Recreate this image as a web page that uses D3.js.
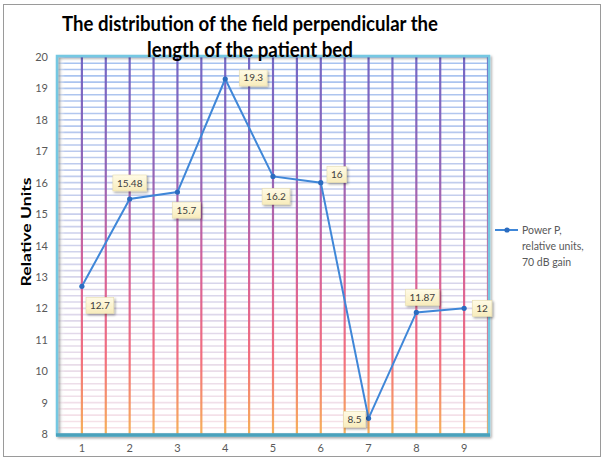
<!DOCTYPE html>
<html><head><meta charset="utf-8">
<script src="https://cdn.jsdelivr.net/npm/d3@7"></script>
<style>body{margin:0;background:#fff}svg{display:block}</style>
</head><body>
<script>
// ---- data ----
const categories = ["1","2","3","4","5","6","7","8","9"];
const values = [12.7, 15.48, 15.7, 19.3, 16.2, 16, 8.5, 11.87, 12];
const valueLabels = ["12.7","15.48","15.7","19.3","16.2","16","8.5","11.87","12"];
const yTicks = [8,9,10,11,12,13,14,15,16,17,18,19,20];
const titleLines = ["The distribution of the field perpendicular the","length of the patient bed"];
const yTitle = "Relative Units";
const legendLines = ["Power P,","relative units,","70 dB gain"];

// ---- layout (not data) ----
const W = 606, H = 459;
const M = {left: 58, right: 488, top: 57, bottom: 434};
const labelOffsets = [[18,19],[0,-16],[9,18],[28,-1],[3,20],[16,-8],[-14,1],[6,-15],[18,0]];

const svg = d3.select("body").append("svg").attr("width", W).attr("height", H);
const defs = svg.append("defs");

const vg = defs.append("linearGradient").attr("id","vgrad").attr("gradientUnits","userSpaceOnUse")
  .attr("x1",0).attr("x2",0).attr("y1",M.top).attr("y2",M.bottom);
[[0,"#6a5cc0"],[0.3,"#8a5ab2"],[0.55,"#d25592"],[0.8,"#f26474"],[1,"#f6aa4c"]].forEach(([o,c])=>
  vg.append("stop").attr("offset",o).attr("stop-color",c));

const sh = defs.append("filter").attr("id","shadow").attr("x","-30%").attr("y","-30%").attr("width","160%").attr("height","160%");
sh.append("feDropShadow").attr("dx",1.5).attr("dy",1.5).attr("stdDeviation",1.2).attr("flood-color","#000").attr("flood-opacity",0.35);

const bg = defs.append("linearGradient").attr("id","boxgrad").attr("x1",0).attr("x2",0).attr("y1",0).attr("y2",1);
bg.append("stop").attr("offset",0).attr("stop-color","#fffbe6");
bg.append("stop").attr("offset",1).attr("stop-color","#f8ecbc");

const lg = defs.append("linearGradient").attr("id","leftshade").attr("x1",0).attr("x2",1);
lg.append("stop").attr("offset",0).attr("stop-color","#d8d8d8").attr("stop-opacity",0.8);
lg.append("stop").attr("offset",1).attr("stop-color","#ffffff").attr("stop-opacity",0);

// outer frame
svg.append("rect").attr("x",3.5).attr("y",4.5).attr("width",597).attr("height",452)
  .attr("fill","#fff").attr("stroke","#9a9a9a").attr("stroke-width",1);

// scales
const x = d3.scaleBand().domain(categories).range([M.left, M.right]).padding(0);
const y = d3.scaleLinear().domain([8,20]).range([M.bottom, M.top]);

// horizontal minor gridlines every 0.2
const hColor = d3.interpolateRgb("#a6c2f0", "#f8e2e8");
const hVals = d3.range(0, 61).map(i => 8 + i*0.2);
svg.append("g").selectAll("line").data(hVals).join("line")
  .attr("x1", M.left).attr("x2", M.right)
  .attr("y1", d => y(d)).attr("y2", d => y(d))
  .attr("stroke", d => hColor((20-d)/12)).attr("stroke-width", 1.6);

// left shade
svg.append("rect").attr("x",M.left).attr("y",M.top).attr("width",7).attr("height",M.bottom-M.top)
  .attr("fill","url(#leftshade)");

// vertical gridlines at centres and boundaries
const vx = [];
categories.forEach((c,i) => {
  vx.push(x(c) + x.bandwidth()/2);
  vx.push(x(c) + x.bandwidth());
});
svg.append("g").selectAll("line").data(vx).join("line")
  .attr("x1", d => d).attr("x2", d => d)
  .attr("y1", M.top).attr("y2", M.bottom)
  .attr("stroke", "url(#vgrad)").attr("stroke-width", 2.2).attr("stroke-opacity", 0.92);

// plot border
const border = svg.append("g").attr("filter","url(#shadow)");
border.append("rect").attr("x",M.left-1).attr("y",M.top-1).attr("width",M.right-M.left+2).attr("height",M.bottom-M.top+2)
  .attr("fill","none").attr("stroke","#74c8e2").attr("stroke-width",2.5);
border.append("line").attr("x1",M.left-2).attr("x2",M.right+2).attr("y1",M.bottom+1).attr("y2",M.bottom+1)
  .attr("stroke","#4aa2bc").attr("stroke-width",3.5);

// axes
const yAxis = d3.axisLeft(y).tickValues(yTicks).tickSize(0).tickPadding(10).tickFormat(d3.format("d"));
const gy = svg.append("g").attr("transform",`translate(${M.left},0)`).call(yAxis);
gy.select(".domain").remove();
gy.selectAll("text").attr("font-family","Lato, 'Open Sans', sans-serif").attr("font-size",11).attr("fill","#595959");

const xAxis = d3.axisBottom(x).tickSize(0).tickPadding(10);
const gx = svg.append("g").attr("transform",`translate(0,${M.bottom})`).call(xAxis);
gx.select(".domain").remove();
gx.selectAll("text").attr("font-family","Lato, 'Open Sans', sans-serif").attr("font-size",11).attr("fill","#595959");

// series line
const cx = (d,i) => x(categories[i]) + x.bandwidth()/2;
const line = d3.line().x((d,i)=>cx(d,i)).y(d=>y(d));
svg.append("path").datum(values).attr("d", line)
  .attr("fill","none").attr("stroke","#3f87d8").attr("stroke-width",2);
svg.append("g").selectAll("circle").data(values).join("circle")
  .attr("cx",(d,i)=>cx(d,i)).attr("cy",d=>y(d)).attr("r",2.6).attr("fill","#2b6cc0");

// data labels
const lab = svg.append("g");
values.forEach((v,i) => {
  const px = cx(v,i) + labelOffsets[i][0], py = y(v) + labelOffsets[i][1];
  const g = lab.append("g");
  const t = g.append("text").attr("x",px).attr("y",py).attr("dy","0.35em")
    .attr("text-anchor","middle").attr("font-family","Lato, 'Open Sans', sans-serif")
    .attr("font-size",10).attr("fill","#404040").text(valueLabels[i]);
  const w = t.node().getComputedTextLength() + 8;
  g.insert("rect","text").attr("x",px-w/2).attr("y",py-8).attr("width",w).attr("height",16)
    .attr("fill","url(#boxgrad)").attr("stroke","#e6dcae").attr("stroke-width",0.6)
    .attr("filter","url(#shadow)");
});

// title
const tl = [[31, 376],[57, 206]];
titleLines.forEach((s,i) => {
  svg.append("text").attr("x",250).attr("y",tl[i][0]).attr("text-anchor","middle")
    .attr("font-family","Lato, 'Open Sans', sans-serif").attr("font-weight","bold")
    .attr("font-size",20).attr("fill","#000")
    .attr("textLength",tl[i][1]).attr("lengthAdjust","spacingAndGlyphs").text(s);
});

// y title
svg.append("text").attr("transform","translate(31,232) rotate(-90)").attr("text-anchor","middle")
  .attr("font-family","Lato, 'Open Sans', sans-serif").attr("font-weight","bold").attr("font-size",14)
  .attr("fill","#000").attr("textLength",109).attr("lengthAdjust","spacingAndGlyphs").text(yTitle);

// legend
const lgY = 230;
svg.append("line").attr("x1",495).attr("x2",518).attr("y1",lgY).attr("y2",lgY)
  .attr("stroke","#3f87d8").attr("stroke-width",2);
svg.append("circle").attr("cx",507).attr("cy",lgY).attr("r",2.6).attr("fill","#2b6cc0");
legendLines.forEach((s,i) => {
  svg.append("text").attr("x",522).attr("y",lgY + i*16).attr("dy","0.35em")
    .attr("font-family","Lato, 'Open Sans', sans-serif").attr("font-size",10.5).attr("fill","#595959").text(s);
});
</script>
</body></html>
